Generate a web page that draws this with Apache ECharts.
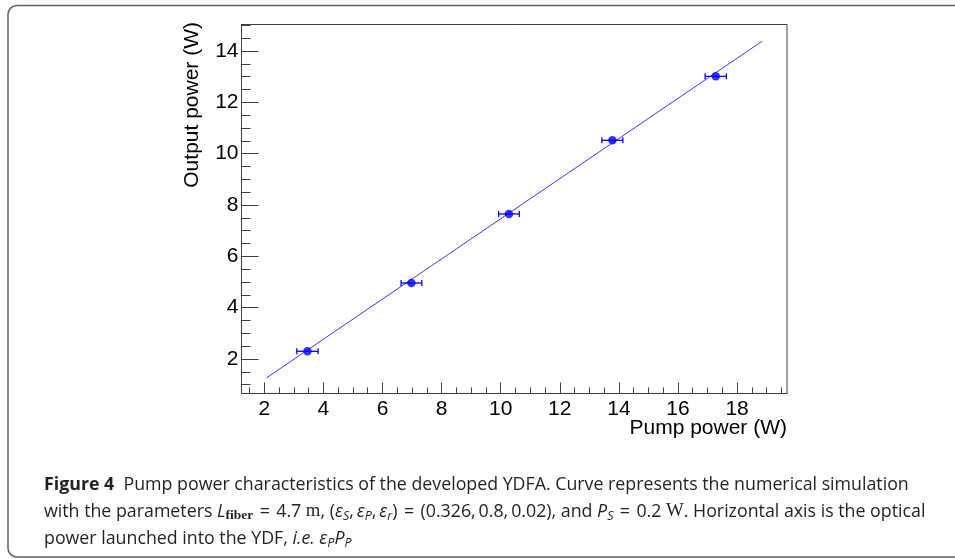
<!DOCTYPE html>
<html><head><meta charset="utf-8">
<script src="https://cdn.jsdelivr.net/npm/echarts@6/dist/echarts.min.js"></script>
<style>html,body{margin:0;padding:0;background:#fff}#c{width:955px;height:559px}</style>
</head><body><div id="c"></div>
<script>
// Data
const pumpPower   = [3.46, 6.98, 10.28, 13.78, 17.28];
const outputPower = [2.30, 4.96, 7.65, 10.52, 13.01];
const pumpError   = [0.36, 0.35, 0.35, 0.355, 0.36];
const curvePump   = [2.08, 18.85];
const curveOutput = [1.27, 14.38];
const xTickLabels = [2, 4, 6, 8, 10, 12, 14, 16, 18];
const xMinorTicks = [1.5, 2.5, 3, 3.5, 4.5, 5, 5.5, 6.5, 7, 7.5, 8.5, 9, 9.5, 10.5, 11, 11.5, 12.5, 13, 13.5, 14.5, 15, 15.5, 16.5, 17, 17.5, 18.5, 19, 19.5];
const yTickLabels = [2, 4, 6, 8, 10, 12, 14];
const yMinorTicks = [1, 1.5, 2.5, 3, 3.5, 4.5, 5, 5.5, 6.5, 7, 7.5, 8.5, 9, 9.5, 10.5, 11, 11.5, 12.5, 13, 13.5, 14.5, 15];
const xTitle = 'Pump power (W)';
const yTitle = 'Output power (W)';

const X_MIN = 1.228, X_MAX = 19.69, Y_MIN = 0.656, Y_MAX = 15.03;
const AX = '#404040';
const LBL = {fontFamily: 'Liberation Sans', fontSize: 21, color: '#000'};

const points = pumpPower.map((x, i) => [x, outputPower[i]]);
const errData = pumpPower.map((x, i) => [x, outputPower[i], x - pumpError[i], x + pumpError[i]]);
const curve = curvePump.map((x, i) => [x, curveOutput[i]]);

const CF = 'Open Sans', CS = 17.8, CL = 27, CC = '#231f20';
const rich = {
  t:  {fontFamily: CF, fontSize: CS, lineHeight: CL, fill: CC},
  b:  {fontFamily: CF, fontSize: CS, fontWeight: 'bold', lineHeight: CL, fill: CC},
  i:  {fontFamily: CF, fontSize: CS, fontStyle: 'italic', lineHeight: CL, fill: CC},
  m:  {fontFamily: 'Liberation Serif', fontSize: CS + 1, lineHeight: CL, fill: CC},
  si: {fontFamily: CF, fontSize: 12.5, fontStyle: 'italic', fill: CC, verticalAlign: 'bottom', padding: [0, 0, 2, 0]},
  sb: {fontFamily: 'Liberation Serif', fontSize: 13.5, fontWeight: 'bold', fill: CC, verticalAlign: 'bottom', padding: [0, 0, 2, 0]}
};
const TS = '\u2009';
const EQ = ' \u200A=\u200A ';
const caption =
  '{b|Figure 4}{t|  Pump power characteristics of the developed YDFA. Curve represents the numerical simulation}\n' +
  '{t|with the parameters }{i|L}{sb|fiber}{t|' + EQ + '4.7 }{m|m}{t|, (}{i|ε}{si|S}{t|,' + TS + '}{i|ε}{si|P}{t|,' + TS + '}{i|ε}{si|r}{t|)' + EQ + '(0.326,' + TS + '0.8,' + TS + '0.02), and }{i|P}{si|S}{t|' + EQ + '0.2 }{m|W}{t|. Horizontal axis is the optical}\n' +
  '{t|power launched into the YDF, }{i|i.e.}{t| }{i|ε}{si|P}{i|P}{si|P}';

const chart = echarts.init(document.getElementById('c'), null, {renderer: 'canvas'});
chart.setOption({
  animation: false,
  backgroundColor: '#fff',
  grid: {left: 241.5, top: 24.5, width: 545.5, height: 369, show: true, borderColor: AX, borderWidth: 1, backgroundColor: 'transparent'},
  xAxis: [
    {type: 'value', min: X_MIN, max: X_MAX, position: 'bottom',
     axisLine: {show: true, lineStyle: {color: AX, width: 1}},
     axisTick: {show: true, inside: true, length: 11, customValues: xTickLabels, lineStyle: {color: AX}},
     axisLabel: Object.assign({show: true, margin: 5, customValues: xTickLabels}, LBL),
     splitLine: {show: false}},
    {type: 'value', min: X_MIN, max: X_MAX, position: 'bottom',
     axisLine: {show: false},
     axisTick: {show: true, inside: true, length: 6, customValues: xMinorTicks, lineStyle: {color: AX}},
     axisLabel: {show: false}, splitLine: {show: false}}
  ],
  yAxis: [
    {type: 'value', min: Y_MIN, max: Y_MAX, position: 'left',
     axisLine: {show: true, lineStyle: {color: AX, width: 1}},
     axisTick: {show: true, inside: true, length: 17, customValues: yTickLabels, lineStyle: {color: AX}},
     axisLabel: Object.assign({show: true, margin: 3, customValues: yTickLabels}, LBL),
     splitLine: {show: false}},
    {type: 'value', min: Y_MIN, max: Y_MAX, position: 'left',
     axisLine: {show: false},
     axisTick: {show: true, inside: true, length: 9, customValues: yMinorTicks, lineStyle: {color: AX}},
     axisLabel: {show: false}, splitLine: {show: false}}
  ],
  series: [
    {type: 'line', data: curve, xAxisIndex: 0, yAxisIndex: 0, symbol: 'none',
     lineStyle: {color: '#3a3aff', width: 1}, z: 2},
    {type: 'custom', data: errData, xAxisIndex: 0, yAxisIndex: 0, encode: {x: [2, 3], y: 1}, z: 3,
     renderItem: function (params, api) {
       const y = api.value(1);
       const lo = api.coord([api.value(2), y]);
       const hi = api.coord([api.value(3), y]);
       const h = 3, st = {stroke: '#0000ff', lineWidth: 1.3};
       return {type: 'group', children: [
         {type: 'line', shape: {x1: lo[0], y1: lo[1], x2: hi[0], y2: hi[1]}, style: st},
         {type: 'line', shape: {x1: lo[0], y1: lo[1] - h, x2: lo[0], y2: lo[1] + h}, style: st},
         {type: 'line', shape: {x1: hi[0], y1: hi[1] - h, x2: hi[0], y2: hi[1] + h}, style: st}
       ]};
     }},
    {type: 'scatter', data: points, xAxisIndex: 0, yAxisIndex: 0, symbol: 'circle', symbolSize: 8.5,
     itemStyle: {color: '#0000ff'}, z: 4}
  ],
  graphic: [
    {type: 'rect', silent: true, shape: {x: 8, y: 5.5, width: 1000, height: 551.5, r: 9},
     style: {fill: 'none', stroke: '#5f5f5f', lineWidth: 1.5}, z: 0},
    {type: 'text', x: 787, y: 428, silent: true,
     style: {text: xTitle, fontFamily: 'Liberation Sans', fontSize: 21, fill: '#000', align: 'right', verticalAlign: 'middle'}},
    {type: 'text', x: 192, y: 22, rotation: Math.PI / 2, silent: true,
     style: {text: yTitle, fontFamily: 'Liberation Sans', fontSize: 21, fill: '#000', align: 'right', verticalAlign: 'middle'}},
    {type: 'text', x: 44, y: 471, silent: true,
     style: {text: caption, rich: rich, fontFamily: CF, fontSize: CS, lineHeight: CL, fill: CC, align: 'left', verticalAlign: 'top'}}
  ]
});
</script>
</body></html>
